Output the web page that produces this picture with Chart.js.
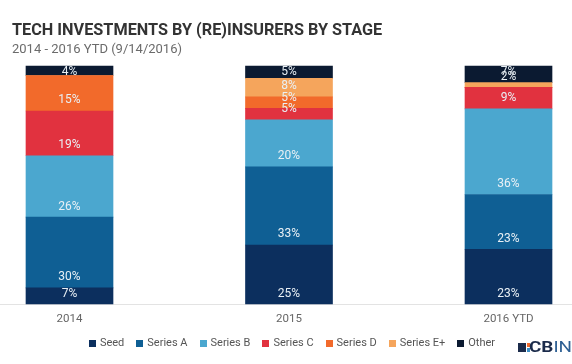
<!DOCTYPE html>
<html>
<head>
<meta charset="utf-8">
<script src="https://cdn.jsdelivr.net/npm/chart.js@4"></script>
<style>
  html, body { margin: 0; padding: 0; background: #fff; }
  #wrap { position: relative; width: 572px; height: 364px; overflow: hidden; }
  #title {
    position: absolute; left: 12px; top: 21px; margin: 0;
    font: 700 17px Roboto, sans-serif; line-height: 1; color: #333;
    white-space: nowrap; transform-origin: 0 0;
  }
  #subtitle {
    position: absolute; left: 12px; top: 42px; margin: 0;
    font: 400 13px Roboto, sans-serif; line-height: 1; color: #6b6b6b;
    white-space: nowrap;
  }
  #legend {
    position: absolute; left: 0; top: 336px; width: 572px; box-sizing: border-box;
    padding-left: 12px; display: flex; justify-content: center;
    font: 400 11px Roboto, sans-serif; line-height: 14px; color: #555;
  }
  #legend span.item { display: flex; align-items: center; margin: 0 6px; white-space: nowrap; }
  #legend span.box { width: 7px; height: 7px; margin-right: 4px; display: inline-block; }
  canvas { position: absolute; left: 0; top: 0; }
</style>
</head>
<body>
<div id="wrap">
  <canvas id="chart" width="572" height="364"></canvas>
  <div id="title">TECH INVESTMENTS BY (RE)INSURERS BY STAGE</div>
  <div id="subtitle">2014 - 2016 YTD (9/14/2016)</div>
  <div id="legend"></div>
</div>
<script>
// share of deals per stage, % (labels are rounded)
const years = ["2014", "2015", "2016 YTD"];
const seed    = [6.8, 24.8, 23];
const seriesA = [29.7, 32.8, 23];
const seriesB = [25.8, 19.8, 36];
const seriesC = [18.8, 4.8, 9];
const seriesD = [14.9, 4.8, 0];
const seriesE = [0, 7.8, 2];
const other   = [4, 5.2, 7];

const stages = ["Seed", "Series A", "Series B", "Series C", "Series D", "Series E+", "Other"];
const colors = ["#0c2f5e", "#0f5f94", "#4ba7cf", "#e1323f", "#f26a2b", "#f5a55c", "#0b1a31"];

// squeeze the title to the reference width
const titleEl = document.getElementById("title");
titleEl.style.transform = "scaleX(" + (370 / titleEl.scrollWidth) + ")";

// legend row
const legendEl = document.getElementById("legend");
stages.forEach((name, i) => {
  const item = document.createElement("span");
  item.className = "item";
  const box = document.createElement("span");
  box.className = "box";
  box.style.background = colors[i];
  item.appendChild(box);
  item.appendChild(document.createTextNode(name));
  legendEl.appendChild(item);
});

const barLabels = {
  id: "barLabels",
  afterDatasetsDraw(chart) {
    const ctx = chart.ctx;
    const top = chart.chartArea.top;
    ctx.save();
    ctx.font = "400 12px Roboto, sans-serif";
    ctx.fillStyle = "#e9f0f5";
    ctx.textAlign = "center";
    ctx.textBaseline = "middle";
    chart.data.datasets.forEach((ds, i) => {
      const meta = chart.getDatasetMeta(i);
      meta.data.forEach((bar, j) => {
        const v = ds.data[j];
        if (!v) return;
        const y = Math.max(bar.base - 10.5, top + 6);
        ctx.fillText(Math.round(v) + "%", bar.x, y);
      });
    });
    ctx.restore();
  }
};

const extras = {
  id: "extras",
  beforeDatasetsDraw(chart) {
    const ctx = chart.ctx;
    const y = Math.round(chart.scales.y.getPixelForValue(0)) + 0.5;
    ctx.save();
    ctx.strokeStyle = "#e3e3e3";
    ctx.lineWidth = 1;
    ctx.beginPath();
    ctx.moveTo(0, y);
    ctx.lineTo(572, y);
    ctx.stroke();
    ctx.restore();
  },
  afterDraw(chart) {
    const ctx = chart.ctx;
    ctx.save();
    // CB Insights mark
    ctx.fillStyle = "#1b2b4b";
    ctx.fillRect(518, 343, 8, 9);
    ctx.fillStyle = "#f26a2b";
    ctx.fillRect(527, 343, 3, 4);
    ctx.fillStyle = "#3a8fc7";
    ctx.fillRect(527, 348, 3, 4);
    ctx.translate(529, 352);
    ctx.scale(1.35, 1);
    ctx.textBaseline = "alphabetic";
    ctx.textAlign = "left";
    ctx.font = "700 14px Roboto, sans-serif";
    ctx.fillStyle = "#1b2b4b";
    ctx.fillText("CB", 0, 0);
    const w = ctx.measureText("CB").width;
    ctx.font = "400 14px Roboto, sans-serif";
    ctx.fillStyle = "#2d5f93";
    ctx.fillText("INSIGHTS", w, 0);
    ctx.restore();
  }
};

const series = [seed, seriesA, seriesB, seriesC, seriesD, seriesE, other];

new Chart(document.getElementById("chart"), {
  type: "bar",
  data: {
    labels: years,
    datasets: stages.map((name, i) => ({
      label: name,
      data: series[i],
      backgroundColor: colors[i],
      borderWidth: 0,
      barThickness: 87,
      clip: false
    }))
  },
  options: {
    responsive: false,
    animation: false,
    layout: { padding: { left: 69.5, right: 63.5, top: 66, bottom: 30.2 } },
    scales: {
      x: {
        stacked: true,
        offset: false,
        grid: { display: false, drawTicks: false },
        border: { display: false },
        ticks: { color: "#666", font: { family: "Roboto", size: 11.5, lineHeight: 1.2 }, padding: 8 }
      },
      y: {
        stacked: true,
        display: false,
        min: 0,
        max: 100
      }
    },
    plugins: {
      tooltip: { enabled: false },
      legend: { display: false }
    }
  },
  plugins: [barLabels, extras]
});
</script>
</body>
</html>
